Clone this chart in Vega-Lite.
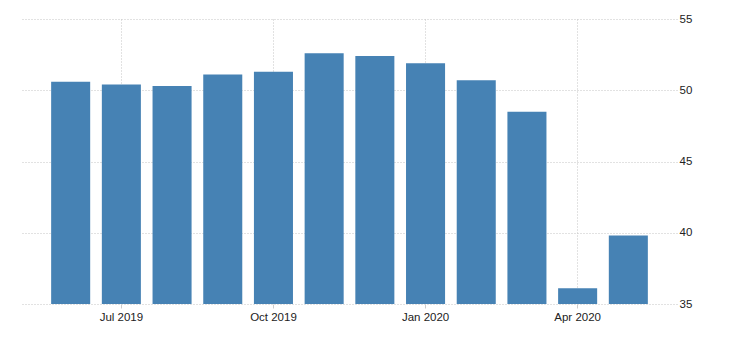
{
  "$schema": "https://vega.github.io/schema/vega-lite/v6.json",
  "width": 655,
  "height": 285,
  "autosize": {"type": "none"},
  "padding": {"left": 22, "top": 19, "right": 53, "bottom": 36},
  "background": "white",
  "data": {
    "values": [
      {"month": "Jun 2019", "value": 50.6},
      {"month": "Jul 2019", "value": 50.4},
      {"month": "Aug 2019", "value": 50.3},
      {"month": "Sep 2019", "value": 51.1},
      {"month": "Oct 2019", "value": 51.3},
      {"month": "Nov 2019", "value": 52.6},
      {"month": "Dec 2019", "value": 52.4},
      {"month": "Jan 2020", "value": 51.9},
      {"month": "Feb 2020", "value": 50.7},
      {"month": "Mar 2020", "value": 48.5},
      {"month": "Apr 2020", "value": 36.1},
      {"month": "May 2020", "value": 39.8}
    ]
  },
  "config": {
    "view": {"stroke": null},
    "axis": {"labelFont": "Liberation Sans", "labelFontSize": 11.5, "labelColor": "#222"}
  },
  "mark": {"type": "bar", "color": "#4682B4", "clip": true},
  "encoding": {
    "x": {
      "field": "month",
      "type": "ordinal",
      "sort": null,
      "scale": {"paddingInner": 0.23, "paddingOuter": 0.575},
      "axis": {
        "title": null,
        "values": ["Jul 2019", "Oct 2019", "Jan 2020", "Apr 2020"],
        "labelAngle": 0,
        "domain": false,
        "grid": true,
        "bandPosition": 0.5,
        "gridColor": "#c4c4c4",
        "gridDash": [1, 2],
        "gridWidth": 1,
        "tickColor": "#cccccc",
        "tickSize": 4,
        "labelPadding": 3
      }
    },
    "y": {
      "field": "value",
      "type": "quantitative",
      "scale": {"domain": [35, 55], "zero": false, "nice": false},
      "axis": {
        "title": null,
        "orient": "right",
        "values": [35, 40, 45, 50, 55],
        "domain": false,
        "ticks": false,
        "labelPadding": 2,
        "gridColor": "#c4c4c4",
        "gridDash": [1, 2],
        "gridWidth": 1
      }
    }
  }
}
